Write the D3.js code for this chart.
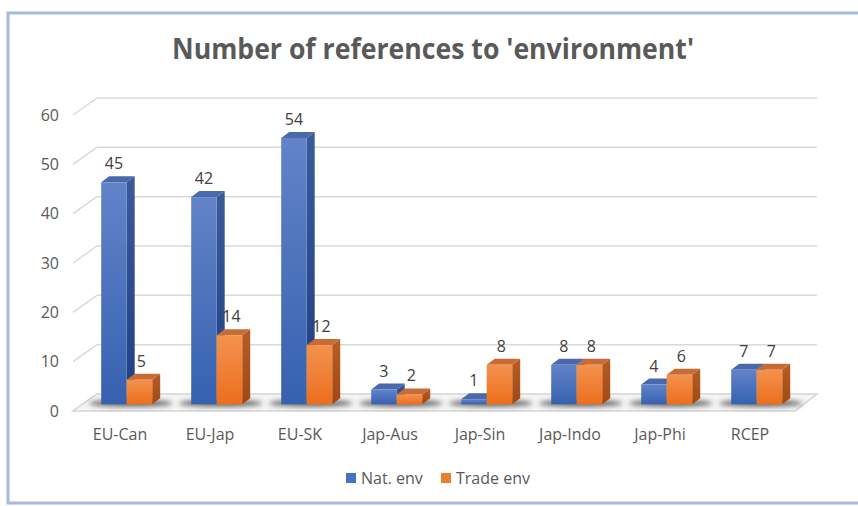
<!DOCTYPE html>
<html>
<head>
<meta charset="utf-8">
<script src="https://cdn.jsdelivr.net/npm/d3@7"></script>
<style>
  body { margin: 0; background: #fff; }
  text { font-family: "Open Sans", sans-serif; }
</style>
</head>
<body>
<div id="chart"></div>
<script>
// 3d clustered column chart, drawn with an oblique projection
const categories = ["EU-Can", "EU-Jap", "EU-SK", "Jap-Aus", "Jap-Sin", "Jap-Indo", "Jap-Phi", "RCEP"]
const natEnv = [45, 42, 54, 3, 1, 8, 4, 7]
const tradeEnv = [5, 14, 12, 2, 8, 8, 6, 7]
const seriesNames = ["Nat. env", "Trade env"]
const yTicks = [0, 10, 20, 30, 40, 50, 60]

const W = 858, H = 506
const depth = {dx: 22, dy: -17}      // floor depth (front -> back wall)
const barOff = {dx: 6.7, dy: -6.7}   // bar front face from the front edge
const barDepth = {dx: 8, dy: -6}     // bar thickness

const svg = d3.select("#chart").append("svg")
  .attr("width", W).attr("height", H)

const defs = svg.append("defs")
function grad(id, c1, c2) {
  const g = defs.append("linearGradient").attr("id", id)
    .attr("x1", 0).attr("y1", 0).attr("x2", 0).attr("y2", 1)
  g.append("stop").attr("offset", "0%").attr("stop-color", c1)
  g.append("stop").attr("offset", "100%").attr("stop-color", c2)
}
grad("blueFront", "#6283c8", "#3661af")
grad("blueSide", "#3b5a9a", "#1e3f82")
grad("orFront", "#f4924f", "#ec6e1c")
grad("orSide", "#b85c24", "#a04914")
defs.append("filter").attr("id", "blur")
  .attr("x", "-30%").attr("y", "-100%").attr("width", "160%").attr("height", "300%")
  .append("feGaussianBlur").attr("stdDeviation", 2.5)

const styles = [
  {front: "url(#blueFront)", side: "url(#blueSide)", top: "#4a69ab", key: "#4472c4"},
  {front: "url(#orFront)", side: "url(#orSide)", top: "#c76c36", key: "#ed7d31"}
]

// chart border
svg.append("rect")
  .attr("x", 8).attr("y", 13).attr("width", W + 10).attr("height", 490)
  .attr("fill", "none").attr("stroke", "#a6badf").attr("stroke-width", 3)

svg.append("text")
  .attr("x", 433).attr("y", 59)
  .attr("text-anchor", "middle")
  .attr("textLength", 522).attr("lengthAdjust", "spacingAndGlyphs")
  .attr("font-size", 28).attr("font-weight", 700).attr("fill", "#595959")
  .text("Number of references to 'environment'")

const y = d3.scaleLinear().domain([0, 60]).range([411, 115])
const x = d3.scaleBand().domain(categories).range([75, 795])
const xs = d3.scaleBand().domain([0, 1]).range([0, 51])

// walls: gridlines on back wall plus the side wall diagonals
const grid = svg.append("g").attr("stroke", "#d9d9d9").attr("stroke-width", 1.5).attr("fill", "none")
yTicks.forEach(t => {
  if (t > 0) {
    grid.append("line")
      .attr("x1", 75 + depth.dx).attr("y1", y(t) + depth.dy)
      .attr("x2", 795 + depth.dx).attr("y2", y(t) + depth.dy)
  }
  grid.append("line")
    .attr("x1", 73).attr("y1", y(t))
    .attr("x2", 75 + depth.dx).attr("y2", y(t) + depth.dy)
})

// floor
svg.append("polygon")
  .attr("points", [[73, y(0)], [795, y(0)], [795 + depth.dx, y(0) + depth.dy], [75 + depth.dx, y(0) + depth.dy]].join(" "))
  .attr("fill", "#f5f5f5").attr("stroke", "#d4d4d4").attr("stroke-width", 1.5)

// y axis labels
svg.append("g").selectAll("text").data(yTicks).join("text")
  .attr("x", 59).attr("y", d => y(d)).attr("dy", "0.35em")
  .attr("text-anchor", "end").attr("font-size", 16).attr("fill", "#595959")
  .text(d => d)

// x axis labels
svg.append("g").selectAll("text").data(categories).join("text")
  .attr("x", d => x(d) + x.bandwidth() / 2).attr("y", 434).attr("dy", "0.35em")
  .attr("text-anchor", "middle").attr("font-size", 16).attr("fill", "#595959")
  .text(d => d)

const yb = v => y(v) + barOff.dy
const rows = categories.map((c, i) => ({cat: c, vals: [natEnv[i], tradeEnv[i]]}))

// shadows under each pair
svg.append("g").selectAll("ellipse").data(rows).join("ellipse")
  .attr("cx", d => x(d.cat) + x.bandwidth() / 2 + barOff.dx + 4)
  .attr("cy", yb(0) - 1)
  .attr("rx", 42).attr("ry", 3.5)
  .attr("fill", "#3a3a3a").attr("opacity", 0.75)
  .attr("filter", "url(#blur)")

const bars = svg.append("g")
rows.forEach(r => {
  const left = x(r.cat) + x.bandwidth() / 2 - 25.5 + barOff.dx
  r.vals.forEach((v, s) => {
    const x0 = left + xs(s), x1 = x0 + xs.bandwidth()
    const yt = yb(v), y0 = yb(0)
    const st = styles[s]
    const g = bars.append("g")
    g.append("polygon")
      .attr("points", [[x1, yt], [x1 + barDepth.dx, yt + barDepth.dy], [x1 + barDepth.dx, y0 + barDepth.dy], [x1, y0]].join(" "))
      .attr("fill", st.side)
    g.append("polygon")
      .attr("points", [[x0, yt], [x0 + barDepth.dx, yt + barDepth.dy], [x1 + barDepth.dx, yt + barDepth.dy], [x1, yt]].join(" "))
      .attr("fill", st.top)
    g.append("rect")
      .attr("x", x0).attr("y", yt).attr("width", x1 - x0).attr("height", y0 - yt)
      .attr("fill", st.front)
    svg.append("text")
      .attr("x", (x0 + x1) / 2 + (s === 1 ? 2 : 0)).attr("y", yt - 13)
      .attr("text-anchor", "middle").attr("font-size", 16).attr("fill", "#404040")
      .text(v)
  })
})

// legend
const legend = svg.append("g")
const lx = [346, 441]
seriesNames.forEach((n, i) => {
  legend.append("rect").attr("x", lx[i]).attr("y", 473).attr("width", 10).attr("height", 10)
    .attr("fill", styles[i].key)
  legend.append("text").attr("x", lx[i] + 15).attr("y", 478).attr("dy", "0.35em")
    .attr("font-size", 16).attr("fill", "#595959").text(n)
})
</script>
</body>
</html>
